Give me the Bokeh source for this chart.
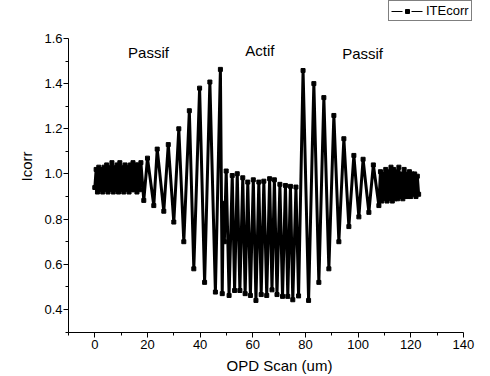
from bokeh.plotting import figure
from bokeh.models import Range1d, FixedTicker, Legend, LegendItem, Label, ColumnDataSource
from bokeh.embed import file_html
from bokeh.resources import INLINE

# ---- data (extrema of the scan) ----
opd_scan = [
    0.0, 0.5, 1.0, 1.5, 2.0, 2.5, 3.0, 3.5, 4.0, 4.5, 5.0, 5.5, 6.0, 6.5, 7.0, 7.5,
    8.0, 8.5, 9.0, 9.5, 10.0, 10.5, 11.0, 11.5, 12.0, 12.5, 13.0, 13.5, 14.0, 14.5,
    15.0, 15.5, 16.0, 16.5, 17.0, 17.5,
    18.6, 20.0, 22.4, 23.7, 26.2, 27.9, 30.0, 31.9, 33.8, 35.9, 37.6, 39.8, 41.7,
    43.7, 45.8, 47.7,
    48.4, 48.8, 49.2, 49.9,
    51.0, 52.2, 53.1, 54.1, 55.1, 56.2, 57.1, 58.1, 59.1, 60.2, 61.2, 62.3, 63.2,
    64.2, 65.3, 66.4, 67.3, 68.2, 69.2, 70.3, 71.3, 72.4, 73.3, 74.3, 75.2, 76.4, 77.4,
    79.1, 81.2, 83.2, 85.1, 87.0, 88.9, 90.8, 92.7, 94.6, 96.5, 98.4, 100.3, 101.9,
    104.1, 105.8, 107.9,
    108.5, 109.0, 109.5, 110.0, 110.5, 111.0, 111.5, 112.0, 112.5, 113.0, 113.5,
    114.0, 114.5, 115.0, 115.5, 116.0, 116.5, 117.0, 117.5, 118.0, 118.5, 119.0,
    119.5, 120.0, 120.5, 121.0, 121.5, 122.0, 122.5, 123.0,
]
icorr = [
    0.94, 1.02, 0.92, 1.03, 0.93, 1.02, 0.92, 1.03, 0.93, 1.04, 0.92, 1.03, 0.93, 1.05, 0.92, 1.03,
    0.93, 1.04, 0.92, 1.05, 0.93, 1.03, 0.92, 1.04, 0.93, 1.03, 0.92, 1.04, 0.93, 1.05,
    0.93, 1.04, 0.92, 1.04, 0.93, 1.05,
    0.883, 1.07, 0.86, 1.11, 0.835, 1.13, 0.787, 1.20, 0.70, 1.28, 0.58, 1.38, 0.52,
    1.407, 0.477, 1.463,
    0.47, 0.87, 0.70, 1.013,
    0.462, 0.993, 0.484, 1.001, 0.484, 0.983, 0.47, 0.964, 0.462, 0.974, 0.44, 0.964, 0.466,
    0.968, 0.462, 0.979, 0.487, 0.974, 0.466, 0.954, 0.458, 0.949, 0.458, 0.945, 0.443, 0.942, 0.46,
    1.458, 0.44, 1.40, 0.52, 1.338, 0.58, 1.259, 0.70, 1.156, 0.767, 1.082, 0.81, 1.065,
    0.83, 1.04, 0.86,
    1.01, 0.88, 1.00, 0.89, 1.02, 0.88, 1.01, 0.89, 1.03, 0.88, 1.02,
    0.89, 1.01, 0.89, 1.03, 0.90, 1.00, 0.89, 1.02, 0.90, 1.00, 0.90,
    1.01, 0.90, 1.00, 0.91, 1.00, 0.90, 0.99, 0.91,
]

x_major_ticks = [0, 20, 40, 60, 80, 100, 120, 140]
x_minor_ticks = [-10, 10, 30, 50, 70, 90, 110, 130]
y_major_ticks = [0.4, 0.6, 0.8, 1.0, 1.2, 1.4, 1.6]
y_minor_ticks = [0.3, 0.5, 0.7, 0.9, 1.1, 1.3, 1.5]
y_tick_labels = ["0.4", "0.6", "0.8", "1.0", "1.2", "1.4", "1.6"]

region_labels = ["Passif", "Actif", "Passif"]
series_name = "ITEcorr"

FONT = "Liberation Sans"

p = figure(width=490, height=376,
           x_range=Range1d(-10, 150.3), y_range=Range1d(0.298, 1.768),
           output_backend="svg", toolbar_location=None,
           min_border_left=68, min_border_right=0, min_border_top=0, min_border_bottom=44)

p.grid.visible = False
p.outline_line_color = None
p.background_fill_color = "white"
p.border_fill_color = "white"

src = ColumnDataSource(dict(x=opd_scan, y=icorr))
line_r = p.line("x", "y", source=src, line_color="black", line_width=3)
pts_r = p.scatter("x", "y", source=src, marker="square", size=4, color="black")

# axes
p.xaxis.bounds = (-10, 140)
p.yaxis.bounds = (0.3, 1.6)
p.xaxis.ticker = FixedTicker(ticks=x_major_ticks, minor_ticks=x_minor_ticks)
p.yaxis.ticker = FixedTicker(ticks=y_major_ticks, minor_ticks=y_minor_ticks)
p.yaxis.major_label_overrides = {t: s for t, s in zip(y_major_ticks, y_tick_labels)}
p.xaxis.axis_label = "OPD Scan (um)"
p.yaxis.axis_label = "Icorr"
for ax in (p.xaxis, p.yaxis):
    ax.axis_line_color = "black"
    ax.axis_line_width = 1
    ax.major_tick_line_color = "black"
    ax.minor_tick_line_color = "black"
    ax.major_tick_in = 0
    ax.major_tick_out = 5
    ax.minor_tick_in = 0
    ax.minor_tick_out = 3
    ax.major_label_text_font = FONT
    ax.major_label_text_font_size = "13px"
    ax.major_label_text_color = "black"
    ax.axis_label_text_font = FONT
    ax.axis_label_text_font_size = "15px"
    ax.axis_label_text_font_style = "normal"
    ax.axis_label_text_color = "black"
    ax.major_label_standoff = 2
    ax.axis_label_standoff = 5
p.yaxis.major_label_standoff = 1
p.yaxis.axis_label_standoff = 6

# region labels
for xx, yy, txt in [(20.4, 1.538, region_labels[0]), (62.7, 1.547, region_labels[1]),
                    (101.7, 1.534, region_labels[2])]:
    p.add_layout(Label(x=xx, y=yy, text=txt, text_align="center", text_baseline="middle",
                       text_font=FONT, text_font_size="15px", text_color="black"))

# legend (sample glyphs share the first data point so they draw nothing new)
leg_src = ColumnDataSource(dict(x=opd_scan[:1], y=icorr[:1]))
leg_line = p.line("x", "y", source=leg_src, line_color="black", line_width=1, line_dash="11 9")
leg_pt = p.scatter("x", "y", source=leg_src, marker="square", size=3, color="black")
legend = Legend(items=[LegendItem(label=series_name, renderers=[leg_line, leg_pt])],
                location=(320, 311), orientation="vertical",
                border_line_color="black", border_line_width=1,
                background_fill_color="white", background_fill_alpha=1,
                label_text_font=FONT, label_text_font_size="13px", label_text_color="black",
                glyph_width=32, glyph_height=10, label_height=10, label_standoff=3,
                padding=2, margin=0, spacing=0)
p.add_layout(legend)

open("out.html", "w").write(file_html(p, INLINE))
